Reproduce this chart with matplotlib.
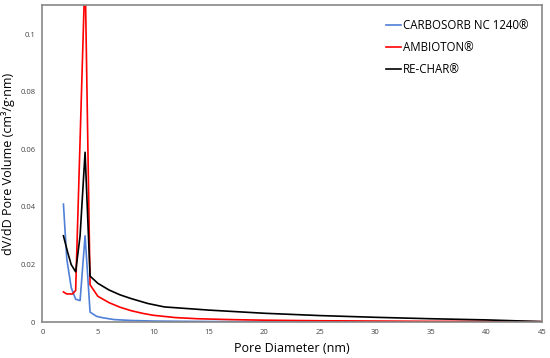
import matplotlib.pyplot as plt

# pore diameter (nm) and dV/dD for each sample
carbo_x = [1.9, 2.2, 2.6, 3.0, 3.4, 3.85, 4.3, 4.9, 5.5, 6.5, 8, 10, 13, 17, 22, 30, 38, 45]
carbo_y = [0.041, 0.022, 0.012, 0.008, 0.0075, 0.030, 0.0035, 0.002, 0.0015, 0.0009, 0.0006,
           0.0004, 0.0003, 0.0002, 0.0002, 0.0001, 0.0001, 0.0001]

ambio_x = [1.9, 2.2, 2.7, 3.0, 3.85, 4.3, 5.0, 6.0, 7.0, 8.0, 9.0, 10, 12, 14, 17, 20, 25, 30, 35, 40, 45]
ambio_y = [0.0105, 0.0098, 0.0098, 0.011, 0.122, 0.013, 0.009, 0.0068, 0.0052, 0.004, 0.0031, 0.0024,
           0.0016, 0.0012, 0.0009, 0.0007, 0.0005, 0.0004, 0.0003, 0.0003, 0.0002]

rechar_x = [1.9, 2.3, 2.6, 3.0, 3.4, 3.85, 4.3, 5.0, 6.0, 7.0, 8.0, 9.5, 11, 15, 20, 25, 30, 35, 40, 45]
rechar_y = [0.030, 0.024, 0.020, 0.0175, 0.030, 0.059, 0.016, 0.0135, 0.0112, 0.0095, 0.0082, 0.0065,
            0.0053, 0.0042, 0.0031, 0.0023, 0.0017, 0.0012, 0.0008, 0.0002]

plt.rcParams['font.family'] = ['Open Sans', 'DejaVu Sans']

fig, ax = plt.subplots(figsize=(5.5, 3.58), dpi=100)
ax.plot(carbo_x, carbo_y, color='#4f7fd6', lw=1.2, label='CARBOSORB NC 1240®')
ax.plot(ambio_x, ambio_y, color='#ff0000', lw=1.2, label='AMBIOTON®')
ax.plot(rechar_x, rechar_y, color='black', lw=1.2, label='RE-CHAR®')

ax.set_xlim(0, 45)
ax.set_ylim(0, 0.11)
ax.set_xticks(range(0, 46, 5))
ax.set_yticks([0, 0.02, 0.04, 0.06, 0.08, 0.1])
ax.set_yticklabels(['0', '0.02', '0.04', '0.06', '0.08', '0.1'])
ax.tick_params(length=0, labelsize=5.5, colors='#444444', pad=5)
for s in ax.spines.values():
    s.set_color('#888888')
    s.set_linewidth(1.2)

ax.set_xlabel('Pore Diameter (nm)', fontsize=9)
ax.set_ylabel('dV/dD Pore Volume (cm³/g·nm)', fontsize=9)
ax.legend(loc='upper right', frameon=False, fontsize=8.3, handlelength=1.3,
          handletextpad=0.2, labelspacing=0.8, borderaxespad=0.75)

fig.subplots_adjust(left=0.077, right=0.985, top=0.985, bottom=0.1)
fig.savefig('out.png', dpi=100)
